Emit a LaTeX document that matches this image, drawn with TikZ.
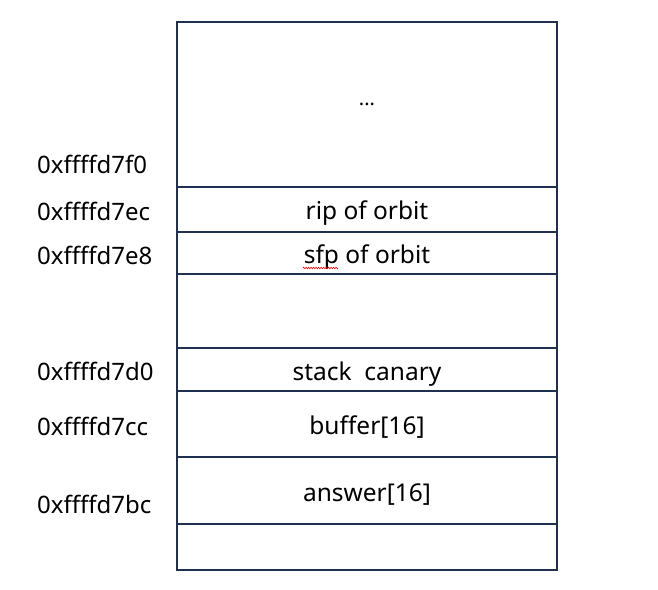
\documentclass[tikz,border=0pt]{standalone}
\usepackage{fontspec}
\setmainfont{Noto Sans}
\usetikzlibrary{decorations.pathmorphing}
\definecolor{navy}{HTML}{1F3050}
\begin{document}
\begin{tikzpicture}[x=1pt,y=-1pt,
  cell/.style={draw=navy,line width=2pt,anchor=north west,minimum width=380pt,inner sep=0pt,outer sep=0pt},
  txt/.style={font=\fontsize{24.5}{26}\selectfont,text=black,inner sep=0pt},
  addr/.style={font=\fontsize{24}{26}\selectfont,text=black,inner sep=0pt,anchor=west}]
\useasboundingbox (0,0) rectangle (658,589);
\node[cell,minimum height=165pt] (r0) at (177,22) {};
\node[cell,minimum height=45pt] (r1) at (177,187) {};
\node[cell,minimum height=42pt] (r2) at (177,232) {};
\node[cell,minimum height=74pt] (r3) at (177,274) {};
\node[cell,minimum height=43pt] (r4) at (177,348) {};
\node[cell,minimum height=66pt] (r5) at (177,391) {};
\node[cell,minimum height=67pt] (r6) at (177,457) {};
\node[cell,minimum height=46pt] (r7) at (177,524) {};
\node[txt,font=\fontsize{20}{22}\selectfont] (t0) at (367,104) {...};
\node[txt] (t1) at (367,213) {rip of orbit};
\node[txt] (t2) at (367,257) {sfp of orbit};
\node[txt] (t4) at (367,374) {stack\ \ canary};
\node[txt] (t5) at (367,427) {buffer[16]};
\node[txt] (t6) at (367,495) {answer[16]};
\draw[red,line width=0.6pt,decoration={zigzag,segment length=2.5pt,amplitude=0.8pt},decorate] (303,268) -- (338,268);
\node[addr] (a0) at (37,164) {0xffffd7f0};
\node[addr] (a1) at (37,211) {0xffffd7ec};
\node[addr] (a2) at (37,255) {0xffffd7e8};
\node[addr] (a4) at (37,371) {0xffffd7d0};
\node[addr] (a5) at (37,426) {0xffffd7cc};
\node[addr] (a6) at (37,504) {0xffffd7bc};
\end{tikzpicture}
\end{document}
